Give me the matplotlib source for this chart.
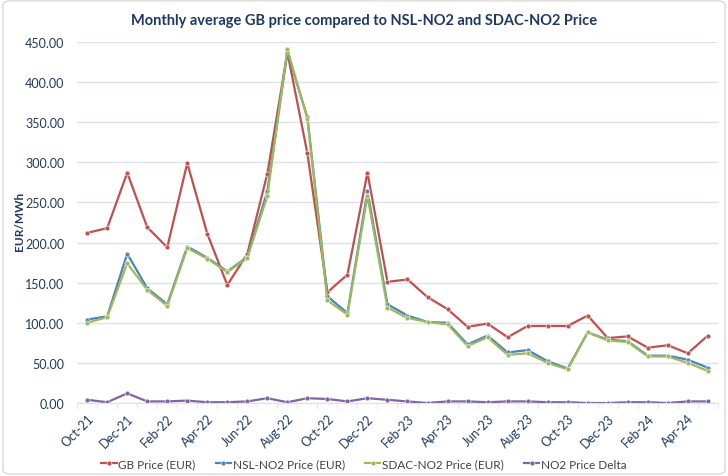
import matplotlib
matplotlib.use("Agg")
import matplotlib.pyplot as plt
from matplotlib.patches import FancyBboxPatch

plt.rcParams['font.family'] = ['Lato', 'DejaVu Sans']

months = ['Oct-21', 'Nov-21', 'Dec-21', 'Jan-22', 'Feb-22', 'Mar-22', 'Apr-22', 'May-22',
          'Jun-22', 'Jul-22', 'Aug-22', 'Sep-22', 'Oct-22', 'Nov-22', 'Dec-22', 'Jan-23',
          'Feb-23', 'Mar-23', 'Apr-23', 'May-23', 'Jun-23', 'Jul-23', 'Aug-23', 'Sep-23',
          'Oct-23', 'Nov-23', 'Dec-23', 'Jan-24', 'Feb-24', 'Mar-24', 'Apr-24', 'May-24']

gb_price = [212, 218, 287, 219, 194, 299, 211, 147, 186, 286, 437, 311,
            138, 160, 287, 151, 154, 132, 117, 95, 99, 82,
            96, 96, 96, 109, 81, 83, 69, 72, 62, 84]
nsl_price = [104, 108, 186, 143, 123, 195, 181, 164, 182, 264, 437, 356,
             133, 112, 264, 123, 109, 101, 100, 73, 84, 63,
             66, 52, 43, 88, 79, 77, 59, 59, 54, 44]
sdac_price = [100, 107, 174, 141, 121, 193, 180, 163, 181, 258, 441, 354,
              128, 110, 258, 119, 106, 101, 98, 71, 82, 60,
              62, 50, 42, 88, 78, 76, 58, 58, 50, 40]
delta = [4, 1, 12, 2, 2, 3, 1, 1, 2, 6, 1, 6,
         5, 2, 6, 4, 2, 0, 2, 2, 1, 2,
         2, 1, 1, 0, 0, 1, 1, 0, 2, 2]

series = [
    ('GB Price (EUR)', gb_price, '#C0504D'),
    ('NSL-NO2 Price (EUR)', nsl_price, '#4F81BD'),
    ('SDAC-NO2 Price (EUR)', sdac_price, '#9BBB59'),
    ('NO2 Price Delta', delta, '#8064A2'),
]

fig = plt.figure(figsize=(7.28, 4.77), dpi=100)
# light frame around chart
frame = FancyBboxPatch((0.004, 0.004), 0.992, 0.992, boxstyle="round,pad=0,rounding_size=0.01",
                       transform=fig.transFigure, facecolor='none', edgecolor='#D9D9D9', linewidth=1)
fig.patches.append(frame)

ax = fig.add_axes([0.106, 0.153, 0.880, 0.757])
x = list(range(len(months)))
for name, vals, col in series:
    ax.plot(x, vals, color=col, linewidth=1.6, marker='o', markersize=3.5,
            markerfacecolor=col, markeredgecolor='white', markeredgewidth=0.4, label=name)

ax.set_xlim(-0.5, len(months) - 0.5)
ax.set_ylim(0, 450)
ax.set_yticks(range(0, 451, 50))
ax.set_yticklabels([f"{v:.2f}" for v in range(0, 451, 50)])
ax.set_xticks(x[::2])
ax.set_xticklabels(months[::2], rotation=45, ha='right', rotation_mode='anchor')
ax.set_xticks([i + 0.5 for i in range(-1, len(months))], minor=True)
ax.grid(axis='y', color='#D9E1F2', linewidth=1)
ax.set_axisbelow(True)
for s in ['top', 'right', 'left']:
    ax.spines[s].set_visible(False)
ax.spines['bottom'].set_color('#D9E1F2')
ax.tick_params(axis='both', which='major', length=0, colors='#1F3864', labelsize=9)
ax.tick_params(axis='x', which='minor', length=4, color='#D9E1F2')
ax.tick_params(axis='y', pad=9)
ax.tick_params(axis='x', pad=6)

fig.text(0.027, 0.535, 'EUR/MWh', rotation=90, ha='center', va='center',
         fontsize=8.5, fontweight='bold', color='#1F3864')
fig.text(0.5, 0.955, 'Monthly average GB price compared to NSL-NO2 and SDAC-NO2 Price',
         ha='center', va='center', fontsize=10.5, fontweight='bold', color='#1F3864')

leg = fig.legend(loc='center', bbox_to_anchor=(0.5, 0.025), ncol=4, frameon=False,
                 fontsize=8.5, handlelength=1.3, handletextpad=0.15, columnspacing=1.7)
for t in leg.get_texts():
    t.set_color('#404040')

fig.savefig('out.png', dpi=100)
